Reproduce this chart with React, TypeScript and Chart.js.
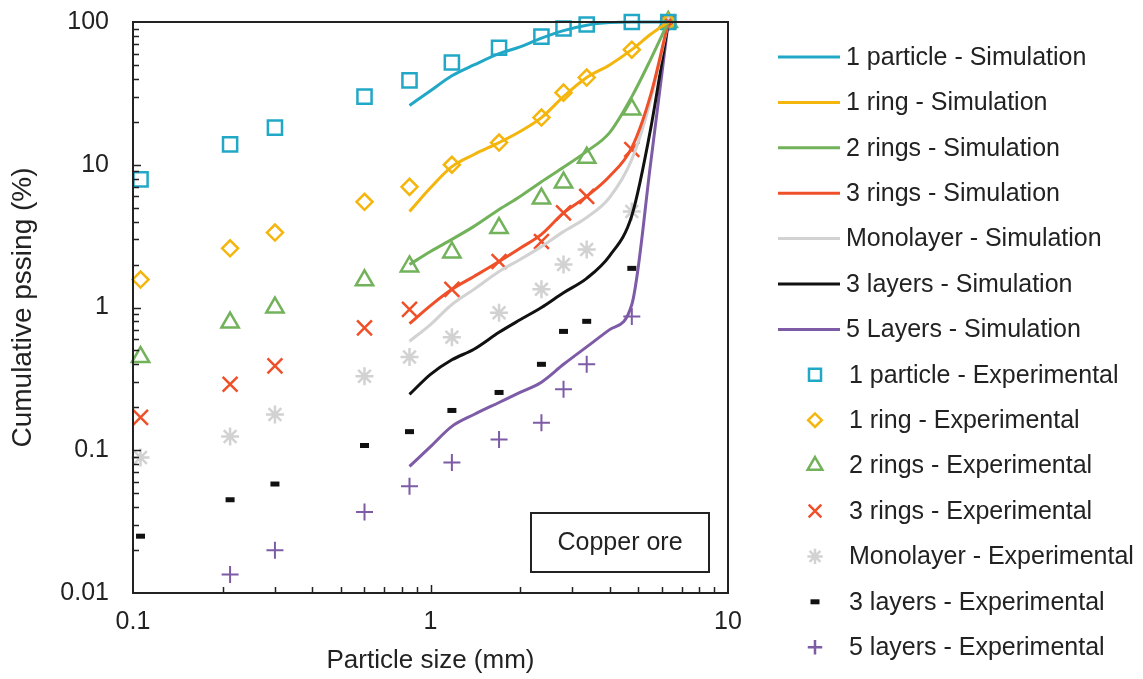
import React, { useEffect, useRef } from "react";
import { Chart, registerables } from "chart.js";
import { drawPoint } from "chart.js/helpers";

Chart.register(...registerables);

const W = 1143;
const H = 679;

// Sieve sizes (mm) of the experimental points
const sieveX = [0.106, 0.212, 0.3, 0.6, 0.85, 1.18, 1.7, 2.36, 2.8, 3.35, 4.75, 6.3];
// Particle sizes (mm) of the simulation curves
const simX = [0.85, 1.0, 1.18, 1.4, 1.7, 2.0, 2.36, 2.8, 3.35, 4.0, 4.75, 5.5, 6.3];

// Simulation curves (cumulative passing, %)
const sim1Particle = [26, 33, 42, 50, 60, 67, 77, 87, 95, 99, 100, 100, 100];
const sim1Ring = [4.7, 6.9, 9.7, 11.8, 14.3, 17.1, 21.4, 30, 40.8, 50, 64, 82, 100];
const sim2Rings = [2.0, 2.47, 3.0, 3.7, 4.86, 6.0, 7.6, 9.6, 12.4, 16.8, 30, 55, 100];
const sim3Rings = [0.77, 1.03, 1.34, 1.65, 2.1, 2.6, 3.25, 4.6, 6.0, 8.3, 13.2, 31, 100];
const simMono = [0.58, 0.76, 1.05, 1.34, 1.79, 2.17, 2.67, 3.4, 4.27, 5.9, 10.9, 28.6, 100];
const sim3Layers = [0.246, 0.34, 0.43, 0.51, 0.67, 0.82, 1.0, 1.27, 1.6, 2.3, 4.4, 18, 100];
const sim5Layers = [0.077, 0.106, 0.147, 0.178, 0.216, 0.254, 0.3, 0.4, 0.53, 0.7, 1.05, 10.4, 100];

// Experimental points (cumulative passing, %)
const exp1Particle = [7.9, 13.9, 18.2, 30, 39, 52, 66, 79, 90, 96, 100, 100];
const exp1Ring = [1.57, 2.6, 3.35, 5.5, 7.0, 10, 14.3, 21.4, 32, 40.8, 64, 100];
const exp2Rings = [0.45, 0.785, 1.0, 1.55, 1.94, 2.43, 3.6, 5.8, 7.5, 11.2, 24.4, 100];
const exp3Rings = [0.17, 0.29, 0.39, 0.72, 0.97, 1.34, 2.1, 2.9, 4.6, 6.0, 12.8, 100];
const expMono = [0.089, 0.125, 0.178, 0.33, 0.45, 0.62, 0.92, 1.34, 2.0, 2.55, 4.7, 100];
const exp3Layers = [0.025, 0.045, 0.058, 0.108, 0.135, 0.19, 0.254, 0.4, 0.68, 0.8, 1.88, 100];
const exp5Layers = [null, 0.0135, 0.0199, 0.037, 0.056, 0.082, 0.119, 0.156, 0.267, 0.4, 0.865, 100];

const xTicks = [0.1, 1, 10];
const yTicks = [0.01, 0.1, 1, 10, 100];

const simLabels = [
  "1 particle - Simulation",
  "1 ring - Simulation",
  "2 rings - Simulation",
  "3 rings - Simulation",
  "Monolayer - Simulation",
  "3 layers - Simulation",
  "5 Layers - Simulation",
];
const expLabels = [
  "1 particle - Experimental",
  "1 ring - Experimental",
  "2 rings - Experimental",
  "3 rings - Experimental",
  "Monolayer - Experimental",
  "3 layers - Experimental",
  "5 layers - Experimental",
];

const colors = ["#22A8C7", "#F4B50C", "#72B25A", "#EF5029", "#D2D2D2", "#111111", "#7D5BA6"];
const simSeries = [sim1Particle, sim1Ring, sim2Rings, sim3Rings, simMono, sim3Layers, sim5Layers];
const expSeries = [exp1Particle, exp1Ring, exp2Rings, exp3Rings, expMono, exp3Layers, exp5Layers];

const markerStyles = ["rect", "rectRot", "triangle", "crossRot", "star", "line", "cross"];
const markerRadius = [10, 8, 10, 10.5, 9, 4.5, 8.5];
const markerWidth = [2.5, 2.5, 2.5, 2.5, 2.5, 5, 2];

const FONT = "'Liberation Sans', Arial, Helvetica, sans-serif";
const TEXT = "#222222";

const decorPlugin = {
  id: "decor",
  beforeDraw(chart: any) {
    const ctx = chart.ctx;
    ctx.save();
    ctx.fillStyle = "#ffffff";
    ctx.fillRect(0, 0, chart.width, chart.height);
    ctx.restore();
  },
  afterDraw(chart: any) {
    const ctx = chart.ctx;
    const a = chart.chartArea;
    const xs = chart.scales.x;
    const ys = chart.scales.y;
    ctx.save();
    // frame
    ctx.strokeStyle = "#222";
    ctx.lineWidth = 2;
    ctx.strokeRect(a.left, a.top, a.right - a.left, a.bottom - a.top);
    // x ticks (inside)
    ctx.lineWidth = 1.5;
    ctx.beginPath();
    for (const d of [0.1, 1]) {
      for (let k = 1; k <= 9; k++) {
        const v = k * d;
        if (v <= 0.1 || v >= 10) continue;
        const px = Math.round(xs.getPixelForValue(v)) + 0.5;
        const len = k === 1 ? 8 : 6;
        ctx.moveTo(px, a.bottom);
        ctx.lineTo(px, a.bottom - len);
      }
    }
    // y ticks (inside)
    for (const d of [0.01, 0.1, 1, 10]) {
      for (let k = 1; k <= 9; k++) {
        const v = k * d;
        if (v <= 0.01 || v >= 100) continue;
        const py = Math.round(ys.getPixelForValue(v)) + 0.5;
        const len = k === 1 ? 8 : 6;
        ctx.moveTo(a.left, py);
        ctx.lineTo(a.left + len, py);
      }
    }
    ctx.stroke();

    // annotation box
    const bx = a.right - 197;
    const by = a.bottom - 80;
    ctx.lineWidth = 2;
    ctx.strokeRect(bx, by, 178, 59);
    ctx.fillStyle = TEXT;
    ctx.font = `25px ${FONT}`;
    ctx.textAlign = "center";
    ctx.textBaseline = "middle";
    ctx.fillText("Copper ore", bx + 89, by + 30);

    // legend
    const rowY = (i: number) => 57 + 45.4 * i;
    ctx.textAlign = "left";
    for (let i = 0; i < 7; i++) {
      const y = rowY(i);
      ctx.strokeStyle = colors[i];
      ctx.lineWidth = 3;
      ctx.beginPath();
      ctx.moveTo(778, y);
      ctx.lineTo(840, y);
      ctx.stroke();
      ctx.fillStyle = TEXT;
      ctx.fillText(simLabels[i], 846, y + 1);
    }
    for (let i = 0; i < 7; i++) {
      const y = rowY(i + 7);
      ctx.strokeStyle = colors[i];
      ctx.fillStyle = "rgba(0,0,0,0)";
      ctx.lineWidth = i === 5 ? 5 : 2.5;
      drawPoint(ctx, {
        pointStyle: markerStyles[i],
        radius: markerRadius[i] * (i === 5 ? 1 : 0.85),
        rotation: 0,
        borderWidth: i === 5 ? 5 : 2.5,
      } as any, 815, y);
      ctx.fillStyle = TEXT;
      ctx.fillText(expLabels[i], 849, y + 1);
    }
    ctx.restore();
  },
};

export default function App() {
  const ref = useRef<HTMLCanvasElement | null>(null);

  useEffect(() => {
    if (!ref.current) return;
    const datasets: any[] = [];
    simSeries.forEach((arr, i) => {
      datasets.push({
        label: simLabels[i],
        data: simX.map((x, j) => ({ x, y: arr[j] })),
        showLine: true,
        borderColor: colors[i],
        backgroundColor: colors[i],
        borderWidth: 3,
        pointRadius: 0,
        cubicInterpolationMode: "monotone",
        clip: false,
      });
    });
    expSeries.forEach((arr, i) => {
      datasets.push({
        label: expLabels[i],
        data: sieveX
          .map((x, j) => ({ x, y: arr[j] }))
          .filter((p) => p.y !== null),
        showLine: false,
        pointStyle: markerStyles[i],
        pointRadius: markerRadius[i],
        pointBorderWidth: markerWidth[i],
        borderColor: colors[i],
        pointBorderColor: colors[i],
        backgroundColor: "rgba(0,0,0,0)",
        pointBackgroundColor: "rgba(0,0,0,0)",
        clip: false,
      });
    });

    const chart = new Chart(ref.current, {
      type: "scatter",
      data: { datasets },
      options: {
        responsive: false,
        animation: false,
        layout: { autoPadding: false, padding: { left: 0, top: 22, right: W - 728, bottom: 0 } },
        plugins: {
          legend: { display: false },
          tooltip: { enabled: false },
        },
        scales: {
          x: {
            type: "logarithmic",
            min: 0.1,
            max: 10,
            grid: { display: false, drawTicks: false },
            border: { display: false },
            afterBuildTicks: (s: any) => {
              s.ticks = xTicks.map((v) => ({ value: v, major: true }));
            },
            afterFit: (s: any) => {
              s.height = 86;
              s.paddingLeft = 0;
              s.paddingRight = 0;
            },
            ticks: {
              autoSkip: false,
              maxRotation: 0,
              padding: 14,
              color: TEXT,
              font: { family: FONT, size: 25 },
              callback: (v: any) => String(v),
            },
            title: {
              display: true,
              text: "Particle size (mm)",
              color: TEXT,
              font: { family: FONT, size: 26 },
              padding: { top: 0, bottom: 3 },
            },
          },
          y: {
            type: "logarithmic",
            min: 0.01,
            max: 100,
            grid: { display: false, drawTicks: false },
            border: { display: false },
            afterBuildTicks: (s: any) => {
              s.ticks = yTicks.map((v) => ({ value: v, major: true }));
            },
            afterFit: (s: any) => {
              s.width = 133;
              s.paddingTop = 0;
              s.paddingBottom = 0;
            },
            ticks: {
              autoSkip: false,
              padding: 24,
              color: TEXT,
              font: { family: FONT, size: 25 },
              callback: (v: any) => String(v),
            },
            title: {
              display: true,
              text: "Cumulative pssing (%)",
              color: TEXT,
              font: { family: FONT, size: 28 },
              padding: { top: 6, bottom: 0 },
            },
          },
        },
      },
      plugins: [decorPlugin],
    } as any);
    return () => chart.destroy();
  }, []);

  return (
    <div style={{ position: "fixed", left: 0, top: 0, width: W, height: H, background: "#fff" }}>
      <canvas ref={ref} width={W} height={H} style={{ display: "block", width: W, height: H }} />
    </div>
  );
}
